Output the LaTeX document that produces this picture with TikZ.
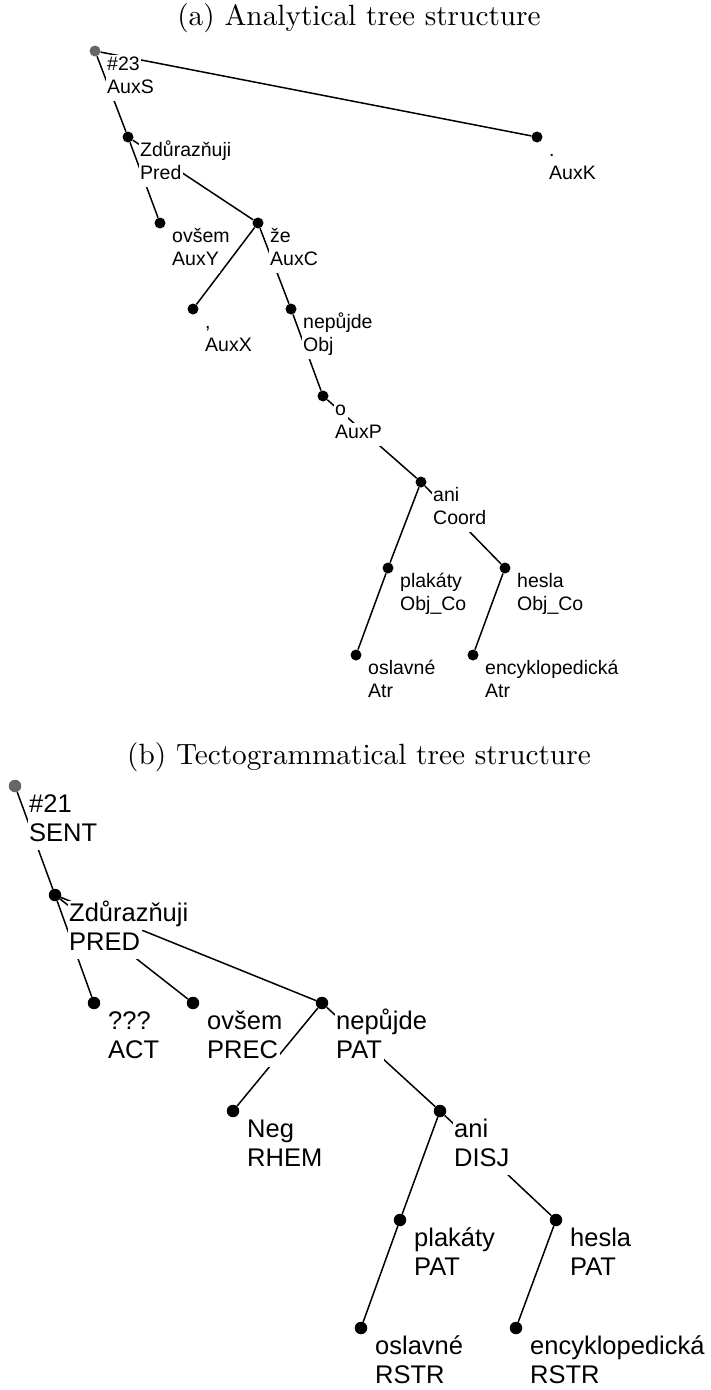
\documentclass[tikz,border=0pt]{standalone}
\usepackage{fontspec}
\newfontfamily\treefont{Liberation Sans}
\usepackage{tikz}
\usetikzlibrary{positioning}
\usepackage{xcolor}
\setlength{\fboxsep}{0pt}
\newcommand{\wordfn}[2]{\colorbox{white}{\hspace{1.5pt}\strut#1\hspace{1.5pt}}\\\colorbox{white}{\hspace{1.5pt}\strut#2\hspace{1.5pt}}}

\begin{document}
\begin{tikzpicture}[x=1pt,y=-1pt,
  adot/.style={circle,fill=black,inner sep=0pt,minimum size=11pt},
  tdot/.style={adot,minimum size=12.5pt},
  rootdot/.style={fill=gray!80!black},
  branch/.style={line width=1.5pt},
  alabel/.style={anchor=north west,inner sep=0pt,align=left,font=\treefont\fontsize{19.5}{23}\selectfont},
  tlabel/.style={alabel,font=\treefont\fontsize{25.5}{29}\selectfont},
  subcap/.style={scale=2.93,anchor=base,font=\normalsize}]
\useasboundingbox (0,0) rectangle (710,1390);
\node[subcap] (capa) at (359,25) {(a) Analytical tree structure};
\node[subcap] (capb) at (359,764) {(b) Tectogrammatical tree structure};
% analytical tree
\node[adot,rootdot] (a23) at (95,51) {};
\node[adot] (aauxk) at (537,137) {};\node[adot] (azd) at (128,137) {};
\node[adot] (aovsem) at (160,223) {};\node[adot] (aze) at (258,223) {};
\node[adot] (aauxx) at (193,309) {};\node[adot] (anep) at (291,309) {};
\node[adot] (ao) at (323,396) {};
\node[adot] (aani) at (421,482) {};
\node[adot] (aplak) at (388,568) {};\node[adot] (ahesla) at (505,568) {};
\node[adot] (aoslav) at (356,655) {};\node[adot] (aency) at (473,655) {};
\draw[branch] (a23) -- (aauxk) (a23) -- (azd) (azd) -- (aovsem) (azd) -- (aze) (aze) -- (aauxx) (aze) -- (anep) (anep) -- (ao) (ao) -- (aani) (aani) -- (aplak) (aani) -- (ahesla) (aplak) -- (aoslav) (ahesla) -- (aency);
\node[alabel,below right=3.4pt and 10.5pt of a23.center] (la23) {\wordfn{\#23}{AuxS}};
\node[alabel,below right=3.4pt and 10.5pt of aauxk.center] (laauxk) {\wordfn{.}{AuxK}};
\node[alabel,below right=3.4pt and 10.5pt of azd.center] (lazd) {\wordfn{Zdůrazňuji}{Pred}};
\node[alabel,below right=3.4pt and 10.5pt of aovsem.center] (laovsem) {\wordfn{ovšem}{AuxY}};
\node[alabel,below right=3.4pt and 10.5pt of aze.center] (laze) {\wordfn{že}{AuxC}};
\node[alabel,below right=3.4pt and 10.5pt of aauxx.center] (laauxx) {\wordfn{,}{AuxX}};
\node[alabel,below right=3.4pt and 10.5pt of anep.center] (lanep) {\wordfn{nepůjde}{Obj}};
\node[alabel,below right=3.4pt and 10.5pt of ao.center] (lao) {\wordfn{o}{AuxP}};
\node[alabel,below right=3.4pt and 10.5pt of aani.center] (laani) {\wordfn{ani}{Coord}};
\node[alabel,below right=3.4pt and 10.5pt of aplak.center] (laplak) {\wordfn{plakáty}{Obj\_Co}};
\node[alabel,below right=3.4pt and 10.5pt of ahesla.center] (lahesla) {\wordfn{hesla}{Obj\_Co}};
\node[alabel,below right=3.4pt and 10.5pt of aoslav.center] (laoslav) {\wordfn{oslavné}{Atr}};
\node[alabel,below right=3.4pt and 10.5pt of aency.center] (laency) {\wordfn{encyklopedická}{Atr}};
% tectogrammatical tree
\node[tdot,rootdot] (t21) at (15,786) {};
\node[tdot] (tzd) at (55,895) {};
\node[tdot] (tact) at (94,1003) {};\node[tdot] (tprec) at (193,1003) {};\node[tdot] (tnep) at (322,1003) {};
\node[tdot] (tneg) at (233,1111) {};\node[tdot] (tani) at (440,1111) {};
\node[tdot] (tplak) at (400,1220) {};\node[tdot] (thesla) at (556,1220) {};
\node[tdot] (toslav) at (361,1328) {};\node[tdot] (tency) at (516,1328) {};
\draw[branch] (t21) -- (tzd) (tzd) -- (tact) (tzd) -- (tprec) (tzd) -- (tnep) (tnep) -- (tneg) (tnep) -- (tani) (tani) -- (tplak) (tani) -- (thesla) (tplak) -- (toslav) (thesla) -- (tency);
\node[tlabel,below right=5.7pt and 12.5pt of t21.center] (lt21) {\wordfn{\#21}{SENT}};
\node[tlabel,below right=5.7pt and 12.5pt of tzd.center] (ltzd) {\wordfn{Zdůrazňuji}{PRED}};
\node[tlabel,below right=5.7pt and 12.5pt of tact.center] (ltact) {\wordfn{???}{ACT}};
\node[tlabel,below right=5.7pt and 12.5pt of tprec.center] (ltprec) {\wordfn{ovšem}{PREC}};
\node[tlabel,below right=5.7pt and 12.5pt of tnep.center] (ltnep) {\wordfn{nepůjde}{PAT}};
\node[tlabel,below right=5.7pt and 12.5pt of tneg.center] (ltneg) {\wordfn{Neg}{RHEM}};
\node[tlabel,below right=5.7pt and 12.5pt of tani.center] (ltani) {\wordfn{ani}{DISJ}};
\node[tlabel,below right=5.7pt and 12.5pt of tplak.center] (ltplak) {\wordfn{plakáty}{PAT}};
\node[tlabel,below right=5.7pt and 12.5pt of thesla.center] (lthesla) {\wordfn{hesla}{PAT}};
\node[tlabel,below right=5.7pt and 12.5pt of toslav.center] (ltoslav) {\wordfn{oslavné}{RSTR}};
\node[tlabel,below right=5.7pt and 12.5pt of tency.center] (ltency) {\wordfn{encyklopedická}{RSTR}};
\end{tikzpicture}
\end{document}
